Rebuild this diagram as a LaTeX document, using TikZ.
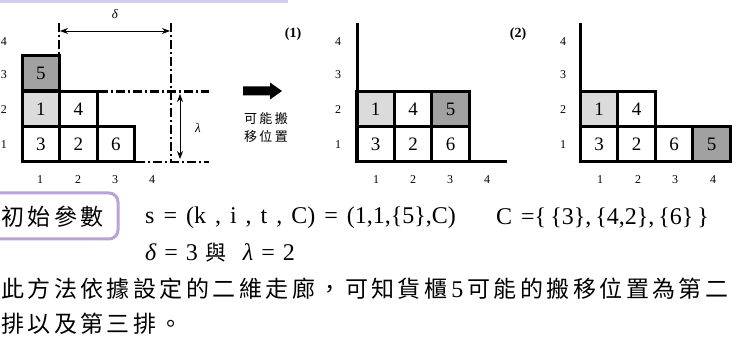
\documentclass[tikz,border=0pt]{standalone}
\usepackage{fontspec}
\setmainfont{Liberation Serif}
\newfontfamily\cjk{Noto Sans CJK TC}
\newfontfamily\cjkwide[LetterSpace=15]{Noto Sans CJK TC}
\newfontfamily\cjksmall[LetterSpace=18]{Noto Sans CJK TC}
\usetikzlibrary{arrows.meta}
\definecolor{lav}{HTML}{D4CEEA}
\definecolor{lavbox}{HTML}{B9A2D6}
\begin{document}
\begin{tikzpicture}[x=1pt,y=-1pt,
  cell/.style={draw, line width=3pt, minimum width=37.5pt, minimum height=35pt, inner sep=0pt, fill=white, font=\fontsize{19}{19}\selectfont},
  hi/.style={fill=black!37},
  lo/.style={fill=black!14},
  axis/.style={font=\fontsize{12}{12}\selectfont, inner sep=0pt},
  wall/.style={line width=3pt},
  dd/.style={line width=2.2pt, dash pattern=on 9pt off 3pt on 2pt off 3pt},
  dim/.style={line width=0.8pt, {Stealth[length=8pt,width=6pt]}-{Stealth[length=8pt,width=6pt]}},
  txt/.style={anchor=west, inner sep=0pt, font=\fontsize{24}{24}\selectfont},
  ctxt/.style={anchor=west, inner sep=0pt, font=\fontsize{23}{24}\selectfont\cjkwide},
  lbl/.style={inner sep=0pt, font=\fontsize{13}{13}\selectfont}
]
\useasboundingbox (0,0) rectangle (740,347);
\fill[lav] (0,0) rectangle (288,3.5);

% ---------- left figure ----------
\foreach \r/\y in {4/42,3/75,2/110,1/145} \node[axis] (la\r) at (4,\y) {\r};
\foreach \c/\x in {1/40,2/78,3/115,4/152} \node[axis] (lb\c) at (\x,180) {\c};
\coordinate (dA) at (59,23);
\coordinate (dB) at (59,56);
\coordinate (dC) at (171,23);
\coordinate (dD) at (171,163);
\coordinate (hA) at (99,91.5);
\coordinate (hB) at (209,91.5);
\coordinate (hC) at (136,162);
\coordinate (hD) at (209,162);
\draw[dd] (dA) -- (dB);
\draw[dd] (dC) -- (dD);
\draw[dd] (hA) -- (hB);
\draw[dd] (hC) -- (hD);
\node[cell,hi] (c5) at (40.75,73.5) {5};
\node[cell,lo] (c1) at (40.75,109) {1};
\node[cell] (c4) at (78.25,109) {4};
\node[cell] (c3) at (40.75,144.5) {3};
\node[cell] (c2) at (78.25,144.5) {2};
\node[cell] (c6) at (115.75,144.5) {6};
\coordinate (da1) at (60,31);
\coordinate (da2) at (170,31);
\draw[dim] (da1) -- (da2);
\node[lbl] (delta) at (115,14) {\itshape δ};
\coordinate (la1) at (180,94);
\coordinate (la2) at (180,159);
\draw[dim] (la1) -- (la2);
\node[lbl] (lambda) at (198,128) {\itshape λ};

% ---------- arrow ----------
\fill (243,86.5) -- (270,86.5) -- (270,82.5) -- (282,91) -- (270,99.5) -- (270,95.5) -- (243,95.5) -- cycle;
\node[inner sep=0pt, font=\fontsize{13}{13}\selectfont\cjksmall, align=center] (move) at (266,127.5) {可能搬\\[5pt]移位置};

% ---------- figure (1) ----------
\node[inner sep=0pt, font=\fontsize{14}{14}\selectfont\bfseries] (t1) at (293,34) {(1)};
\foreach \r/\y in {4/42,3/75,2/110,1/145} \node[axis] (ma\r) at (338,\y) {\r};
\foreach \c/\x in {1/376,2/413,3/450,4/487} \node[axis] (mb\c) at (\x,180) {\c};
\coordinate (w1a) at (357,23);
\coordinate (w1b) at (357,162);
\coordinate (w1c) at (507,162);
\node[cell,lo] (m1) at (375.5,109) {1};
\node[cell] (m4) at (413,109) {4};
\node[cell,hi] (m5) at (450.5,109) {5};
\node[cell] (m3) at (375.5,144.5) {3};
\node[cell] (m2) at (413,144.5) {2};
\node[cell] (m6) at (450.5,144.5) {6};
\draw[wall] (w1a) -- (w1b) -- (w1c);

% ---------- figure (2) ----------
\node[inner sep=0pt, font=\fontsize{14}{14}\selectfont\bfseries] (t2) at (518,34) {(2)};
\foreach \r/\y in {4/42,3/75,2/110,1/145} \node[axis] (ra\r) at (563,\y) {\r};
\foreach \c/\x in {1/600,2/638,3/675,4/713} \node[axis] (rb\c) at (\x,180) {\c};
\coordinate (w2a) at (580,23);
\coordinate (w2b) at (580,162);
\node[cell,lo] (r1) at (599,109) {1};
\node[cell] (r4) at (636.5,109) {4};
\node[cell] (r3) at (599,144.5) {3};
\node[cell] (r2) at (636.5,144.5) {2};
\node[cell] (r6) at (674,144.5) {6};
\node[cell,hi] (r5) at (711.5,144.5) {5};
\draw[wall] (w2a) -- (w2b);

% ---------- text ----------
\draw[lavbox, line width=3pt, rounded corners=9pt] (-12,193) rectangle (118,239);
\node[ctxt] (init) at (1,217) {初始參數};
\node[txt] (s) at (145,218) {\spaceskip=9pt\relax s = (k , i , t , C) = (1,1,\{5\},C)};
\node[txt] (C) at (496,218) {\spaceskip=9pt\relax C =\{\,\{3\},\,\{4,2\},\,\{6\}\,\}};
\node[txt] (dl) at (145,253) {\spaceskip=8pt\relax \itshape δ\upshape\ = 3 {\fontsize{21}{21}\selectfont\cjk 與} \ \itshape λ\upshape\ = 2};
\node[ctxt] (l3) at (1,289) {此方法依據設定的二維走廊，可知貨櫃\hspace{4pt}{\rmfamily\fontsize{24}{24}\selectfont 5}\hspace{4pt}可能的搬移位置為第二};
\node[ctxt] (l4) at (1,324) {排以及第三排。};
\end{tikzpicture}
\end{document}
